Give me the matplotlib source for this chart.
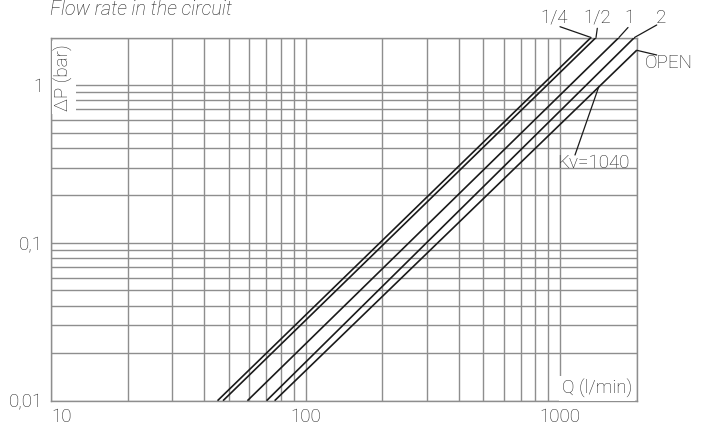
import numpy as np
import matplotlib
matplotlib.use('Agg')
import matplotlib.pyplot as plt
from matplotlib.ticker import LogLocator, NullFormatter

plt.rcParams['font.family'] = ['Roboto', 'DejaVu Sans']
plt.rcParams['font.weight'] = 'light'

# Curves: straight lines in log-log, given by their two end points
curve_names = ['1/4', '1/2', '1', '2', 'OPEN']
q_start = [45.1, 47.4, 59.1, 70.3, 75.6]      # l/min at dP = 0.01 bar
dp_start = [0.01, 0.01, 0.01, 0.01, 0.01]
q_end = [1323, 1384, 1703, 1960, 2000]        # l/min at the top / right edge
dp_end = [2.0, 2.0, 2.0, 2.0, 1.66]

kv_label = 'Kv=1040'
kv_dp = 0.97

x_ticks = [10, 100, 1000]
x_ticklabels = ['10', '100', '1000']
y_ticks = [0.01, 0.1, 1]
y_ticklabels = ['0,01', '0,1', '1']

grid_col = '#8e8e8e'
txt_col = '#222222'
fs = 13.5

W, H = 709, 425
fig = plt.figure(figsize=(W / 100, H / 100), dpi=100)
ax = fig.add_axes([51 / W, 1 - 400.7 / H, (636.7 - 51) / W, (400.7 - 37.5) / H])

ax.set_xscale('log')
ax.set_yscale('log')
ax.set_xlim(10, 2000)
ax.set_ylim(0.01, 2)

ax.xaxis.set_minor_locator(LogLocator(base=10, subs=np.arange(2, 10)))
ax.yaxis.set_minor_locator(LogLocator(base=10, subs=np.arange(2, 10)))
ax.xaxis.set_minor_formatter(NullFormatter())
ax.yaxis.set_minor_formatter(NullFormatter())
ax.set_xticks(x_ticks, labels=x_ticklabels)
ax.set_yticks(y_ticks, labels=y_ticklabels)
ax.get_xticklabels()[0].set_ha('left')
ax.tick_params(which='both', length=0, labelsize=fs, colors=txt_col)
ax.tick_params(axis='y', pad=5.5)
ax.tick_params(axis='x', pad=5.5)

ax.grid(True, which='both', color=grid_col, lw=1)
for s in ax.spines.values():
    s.set_color(grid_col)
    s.set_linewidth(1)

# curves
for qs, ds, qe, de in zip(q_start, dp_start, q_end, dp_end):
    ax.plot([qs, qe], [ds, de], color='#1a1a1a', lw=1.2, solid_capstyle='butt', zorder=3)

# labels with leader lines (figure pixel positions)
label_pos = {'1/4': (554, 407), '1/2': (597, 407), '1': (629, 407), '2': (661, 407), 'OPEN': (669, 362)}
leader_from = {'1/4': (560, 398.3), '1/2': (597.3, 396.7), '1': (628, 397.5), '2': (656.7, 400), 'OPEN': (656.7, 370)}
for name, qe, de in zip(curve_names, q_end, dp_end):
    ax.annotate('', xy=(qe, de), xycoords='data', xytext=leader_from[name], textcoords='figure pixels',
                arrowprops=dict(arrowstyle='-', lw=0.9, color='#1a1a1a', shrinkA=0, shrinkB=0),
                annotation_clip=False)
    px, py = label_pos[name]
    fig.text(px / W, py / H, name, ha='center', va='center', fontsize=fs, color=txt_col)

# Kv pointer onto the OPEN curve
i = curve_names.index('OPEN')
t = (np.log10(kv_dp) - np.log10(dp_start[i])) / (np.log10(dp_end[i]) - np.log10(dp_start[i]))
q_kv = 10 ** (np.log10(q_start[i]) + t * (np.log10(q_end[i]) - np.log10(q_start[i])))
ax.annotate('', xy=(q_kv, kv_dp), xycoords='data', xytext=(575, 270), textcoords='figure pixels',
            arrowprops=dict(arrowstyle='-', lw=0.9, color='#1a1a1a', shrinkA=0, shrinkB=0))
fig.text(593 / W, 262 / H, kv_label, ha='center', va='center', fontsize=fs, color=txt_col)

# axis names inside the plot
ax.text(0.022, 0.89, 'ΔP (bar)', transform=ax.transAxes, rotation=90, ha='center', va='center',
        fontsize=fs, color=txt_col, zorder=4,
        bbox=dict(boxstyle='square,pad=0.15', fc='white', ec='none'))
ax.text(0.992, 0.008, 'Q (l/min)', transform=ax.transAxes, ha='right', va='bottom',
        fontsize=fs, color=txt_col, zorder=4,
        bbox=dict(boxstyle='square,pad=0.15', fc='white', ec='none'))

fig.text(50 / W, 1 - 15 / H, 'Flow rate in the circuit', ha='left', va='baseline',
         fontsize=14.2, style='italic', color=txt_col)

fig.savefig('out.png', dpi=100)
